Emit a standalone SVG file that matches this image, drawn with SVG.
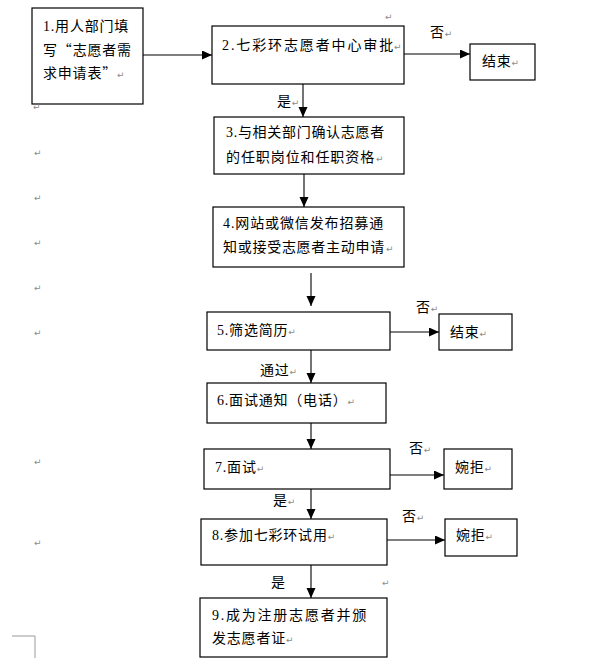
<svg xmlns="http://www.w3.org/2000/svg" width="589" height="664" viewBox="0 0 589 664">
<style>
.box{fill:#fff;stroke:#000;stroke-width:1.2}
.t{font-family:"Liberation Serif","Noto Sans CJK SC",serif;font-size:14px;fill:#000;letter-spacing:0.8px}
.q{font-family:"Noto Sans CJK SC",sans-serif}
.pm{font-family:"DejaVu Sans",sans-serif;font-size:9px;fill:#8a8a8a}
.c{stroke:#000;stroke-width:1.1;fill:none;marker-end:url(#ah)}
</style>
<defs>
<marker id="ah" markerUnits="userSpaceOnUse" markerWidth="10" markerHeight="10" refX="10" refY="4.5" orient="auto">
<path d="M0,0 L10,4.5 L0,9 Z" fill="#000"/>
</marker>
</defs>
<rect width="589" height="664" fill="#fff"/>

<g id="connectors">
<line class="c" x1="143" y1="55" x2="212" y2="55"/>
<line class="c" x1="404" y1="54" x2="470" y2="54"/>
<line class="c" x1="303" y1="84" x2="303" y2="117"/>
<line class="c" x1="304" y1="174" x2="304" y2="207"/>
<line class="c" x1="311" y1="273" x2="311" y2="306"/>
<line class="c" x1="390" y1="332" x2="439" y2="332"/>
<line class="c" x1="311" y1="350" x2="311" y2="383"/>
<line class="c" x1="311" y1="423" x2="311" y2="449"/>
<line class="c" x1="390" y1="475" x2="444" y2="475"/>
<line class="c" x1="311" y1="489" x2="311" y2="519"/>
<line class="c" x1="387" y1="540" x2="445" y2="540"/>
<line class="c" x1="311" y1="565" x2="311" y2="598"/>
<text class="t" x="430" y="37">否<tspan class="pm">↵</tspan></text>
<text class="t" x="277" y="106">是<tspan class="pm">↵</tspan></text>
<text class="t" x="416" y="312">否<tspan class="pm">↵</tspan></text>
<text class="t" x="260" y="375">通过<tspan class="pm">↵</tspan></text>
<text class="t" x="409" y="453">否<tspan class="pm">↵</tspan></text>
<text class="t" x="273" y="505">是<tspan class="pm">↵</tspan></text>
<text class="t" x="402" y="521">否<tspan class="pm">↵</tspan></text>
<text class="t" x="271" y="587">是</text>
</g>

<g id="node1">
<rect class="box" x="32" y="8" width="111" height="96"/>
<text class="t" x="43" y="31">1.用人部门填</text>
<text class="t" x="43" y="55">写<tspan class="q">“</tspan>志愿者需</text>
<text class="t" x="43" y="78">求申请表<tspan class="q">”</tspan><tspan class="pm">↵</tspan></text>
</g>
<g id="node2">
<rect class="box" x="212" y="26" width="192" height="58"/>
<text class="t" x="222" y="50" textLength="172">2.七彩环志愿者中心审批</text>
<text class="pm" x="394" y="50">↵</text>
</g>
<g id="end1">
<rect class="box" x="470" y="44" width="65" height="36"/>
<text class="t" x="482" y="66">结束<tspan class="pm">↵</tspan></text>
</g>
<g id="node3">
<rect class="box" x="214" y="117" width="190" height="57"/>
<text class="t" x="226" y="137" textLength="159">3.与相关部门确认志愿者</text>
<text class="t" x="226" y="162" textLength="149">的任职岗位和任职资格</text>
<text class="pm" x="376" y="162">↵</text>
</g>
<g id="node4">
<rect class="box" x="213" y="207" width="191" height="60"/>
<text class="t" x="223" y="228" textLength="161">4.网站或微信发布招募通</text>
<text class="t" x="223" y="252" textLength="162">知或接受志愿者主动申请</text>
<text class="pm" x="386" y="252">↵</text>
</g>
<g id="node5">
<rect class="box" x="207" y="312" width="183" height="38"/>
<text class="t" x="217" y="335">5.筛选简历<tspan class="pm">↵</tspan></text>
</g>
<g id="end2">
<rect class="box" x="439" y="314" width="73" height="36"/>
<text class="t" x="450" y="337">结束<tspan class="pm">↵</tspan></text>
</g>
<g id="node6">
<rect class="box" x="207" y="383" width="179" height="40"/>
<text class="t" x="217" y="405">6.面试通知（电话）<tspan class="pm">↵</tspan></text>
</g>
<g id="node7">
<rect class="box" x="204" y="449" width="186" height="40"/>
<text class="t" x="215" y="472">7.面试<tspan class="pm">↵</tspan></text>
</g>
<g id="reject1">
<rect class="box" x="444" y="449" width="68" height="40"/>
<text class="t" x="455" y="472">婉拒<tspan class="pm">↵</tspan></text>
</g>
<g id="node8">
<rect class="box" x="201" y="519" width="186" height="46"/>
<text class="t" x="212" y="540">8.参加七彩环试用<tspan class="pm">↵</tspan></text>
</g>
<g id="reject2">
<rect class="box" x="445" y="519" width="72" height="37"/>
<text class="t" x="456" y="540">婉拒<tspan class="pm">↵</tspan></text>
</g>
<g id="node9">
<rect class="box" x="200" y="598" width="187" height="59"/>
<text class="t" x="212" y="620" textLength="155">9.成为注册志愿者并颁</text>
<text class="t" x="212" y="643">发志愿者证<tspan class="pm">↵</tspan></text>
</g>

<g id="marks">
<text class="pm" x="385" y="20">↵</text>
<text class="pm" x="382" y="586">↵</text>
<text class="pm" x="33" y="110">↵</text>
<text class="pm" x="34" y="156">↵</text>
<text class="pm" x="34" y="201">↵</text>
<text class="pm" x="34" y="246">↵</text>
<text class="pm" x="34" y="291">↵</text>
<text class="pm" x="34" y="336">↵</text>
<text class="pm" x="34" y="465">↵</text>
<text class="pm" x="34" y="546">↵</text>
<path d="M12,636 H35 V658" fill="none" stroke="#999" stroke-width="1"/>
</g>
</svg>
